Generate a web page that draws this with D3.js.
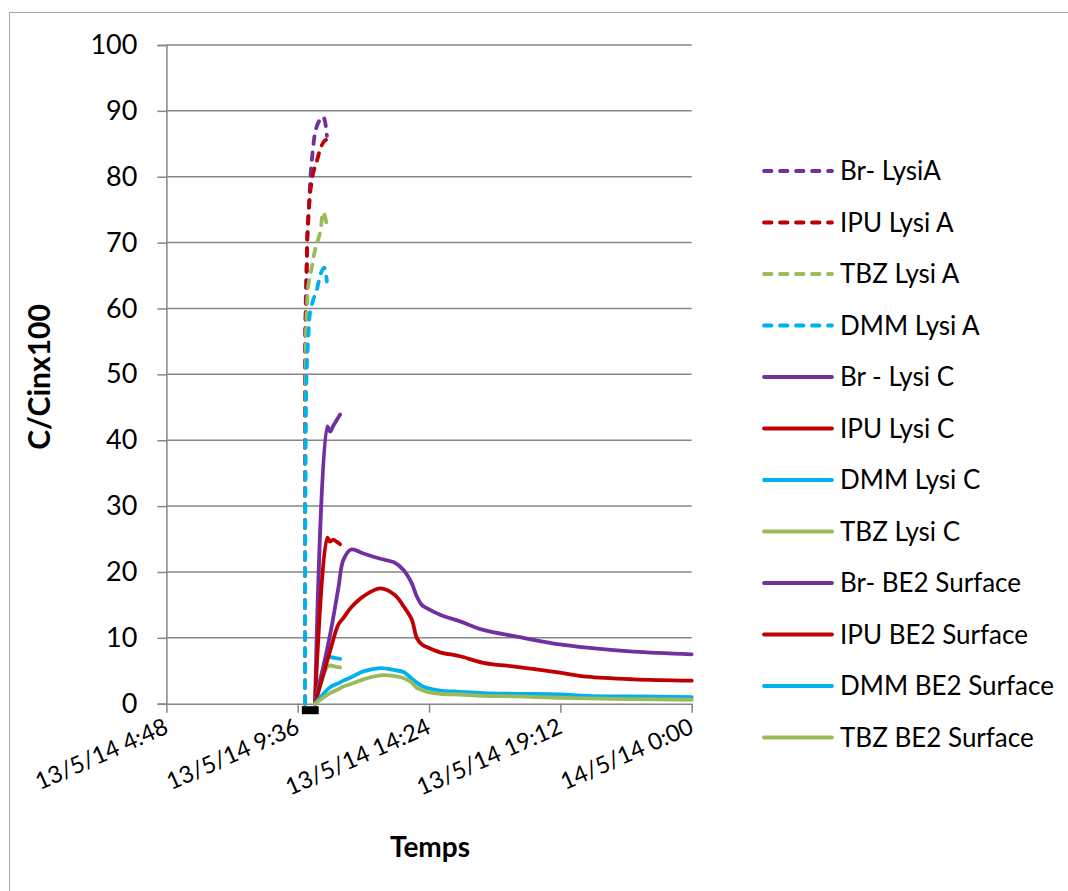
<!DOCTYPE html>
<html>
<head>
<meta charset="utf-8">
<script src="https://cdnjs.cloudflare.com/ajax/libs/d3/7.8.5/d3.min.js"></script>
<style>
  body { margin: 0; background: #fff; }
  svg { font-family: Lato, "Open Sans", sans-serif; }
</style>
</head>
<body>
<svg id="chart" width="1068" height="891"></svg>
<script>
// sample times / values
var brLysiA = [["13/5/14 9:52",0],["13/5/14 9:53",58],["13/5/14 9:56",68],["13/5/14 10:01",76],
  ["13/5/14 10:04",80],["13/5/14 10:07",82.6],["13/5/14 10:10",84.6],["13/5/14 10:14",86.6],
  ["13/5/14 10:21",88.2],["13/5/14 10:32",89.1],["13/5/14 10:40",86.2]];
var ipuLysiA = [["13/5/14 9:52",0],["13/5/14 9:53",57],["13/5/14 9:55",61.3],["13/5/14 9:56",66.3],
  ["13/5/14 9:57",71.5],["13/5/14 10:01",75.5],["13/5/14 10:04",78],["13/5/14 10:10",80.6],
  ["13/5/14 10:18",82.4],["13/5/14 10:25",84.1],["13/5/14 10:32",85.2],["13/5/14 10:38",85.6]];
var tbzLysiA = [["13/5/14 9:52",0],["13/5/14 9:53",49],["13/5/14 9:54",56.3],["13/5/14 9:56",59.8],
  ["13/5/14 9:59",63.3],["13/5/14 10:07",66.3],["13/5/14 10:14",68.9],["13/5/14 10:25",71.5],
  ["13/5/14 10:32",74.6],["13/5/14 10:40",72.7]];
var dmmLysiA = [["13/5/14 9:52",0],["13/5/14 9:55",49.2],["13/5/14 9:59",55.3],["13/5/14 10:03",59.4],
  ["13/5/14 10:10",61.3],["13/5/14 10:18",62.9],["13/5/14 10:27",65.4],["13/5/14 10:34",66.2],
  ["13/5/14 10:40",64.1]];

var timesLysiC = ["13/5/14 10:14","13/5/14 10:41","13/5/14 10:47","13/5/14 10:54","13/5/14 11:01","13/5/14 11:09"];
var brLysiC  = [0, 42.1, 41.3, 42.2, 43.0, 43.9];
var ipuLysiC = [0, 25.2, 24.6, 24.9, 24.6, 24.2];
var dmmLysiC = [0, 7.0, 7.1, 7.0, 6.9, 6.8];
var tbzLysiC = [0, 5.6, 5.8, 5.7, 5.6, 5.5];

var timesBE2 = ["13/5/14 10:14","13/5/14 10:47","13/5/14 11:05","13/5/14 11:16","13/5/14 11:33",
  "13/5/14 12:00","13/5/14 12:37","13/5/14 13:09","13/5/14 13:28","13/5/14 13:46","13/5/14 13:57",
  "13/5/14 14:08","13/5/14 14:19","13/5/14 14:48","13/5/14 15:32","13/5/14 16:23","13/5/14 17:36",
  "13/5/14 19:11","13/5/14 20:10","13/5/14 21:52","14/5/14 0:00"];
var brBE2  = [0, 10.5, 17.5, 21.8, 23.4, 22.8, 22.0, 21.4, 20.3, 18.3, 16.3, 15.0, 14.5, 13.5, 12.5, 11.2, 10.2, 9.0, 8.5, 7.9, 7.5];
var ipuBE2 = [0, 8.0, 12.0, 13.0, 14.6, 16.3, 17.5, 16.5, 14.8, 12.8, 10.0, 9.0, 8.6, 7.8, 7.2, 6.2, 5.6, 4.7, 4.1, 3.7, 3.5];
var dmmBE2 = [0, 2.5, 3.1, 3.5, 4.0, 4.9, 5.4, 5.1, 4.8, 3.8, 3.2, 2.7, 2.4, 2.0, 1.8, 1.6, 1.5, 1.4, 1.2, 1.1, 1.0];
var tbzBE2 = [0, 1.6, 2.2, 2.6, 3.0, 3.7, 4.3, 4.2, 3.9, 3.2, 2.4, 2.1, 1.8, 1.5, 1.4, 1.2, 1.1, 0.9, 0.8, 0.7, 0.6];

// black bar under the axis (application period)
var application = ["13/5/14 9:45", "13/5/14 10:22"];

var xTicks = ["13/5/14 4:48","13/5/14 9:36","13/5/14 14:24","13/5/14 19:12","14/5/14 0:00"];
var yTicks = [0,10,20,30,40,50,60,70,80,90,100];

var purple = "#7030A0", red = "#C00000", green = "#9BBB59", blue = "#00B0F0";

var parse = d3.timeParse("%d/%m/%y %H:%M");
var fmt = d3.timeFormat("%-d/%-m/%y %-H:%M");

function zip(times, vals) {
  return times.map(function(t, i) { return [t, vals[i]]; });
}

var series = [
  {name: "Br- LysiA",       data: brLysiA, color: purple, dash: true},
  {name: "IPU Lysi A",      data: ipuLysiA, color: red, dash: true},
  {name: "TBZ Lysi A",      data: tbzLysiA, color: green, dash: true},
  {name: "DMM Lysi A",      data: dmmLysiA, color: blue, dash: true},
  {name: "Br - Lysi C",     data: zip(timesLysiC, brLysiC), color: purple},
  {name: "IPU Lysi C",      data: zip(timesLysiC, ipuLysiC), color: red},
  {name: "DMM Lysi C",      data: zip(timesLysiC, dmmLysiC), color: blue},
  {name: "TBZ Lysi C",      data: zip(timesLysiC, tbzLysiC), color: green},
  {name: "Br- BE2 Surface", data: zip(timesBE2, brBE2), color: purple},
  {name: "IPU BE2 Surface", data: zip(timesBE2, ipuBE2), color: red},
  {name: "DMM BE2 Surface", data: zip(timesBE2, dmmBE2), color: blue},
  {name: "TBZ BE2 Surface", data: zip(timesBE2, tbzBE2), color: green}
];

var svg = d3.select("#chart");
var plotLeft = 166.4, plotRight = 691.7, plotTop = 45, plotBottom = 703.7;
var lineWidth = 3.8, dashes = "7.5,8.5";

var x = d3.scaleTime()
  .domain([parse(xTicks[0]), parse(xTicks[xTicks.length - 1])])
  .range([plotLeft, plotRight]);
var y = d3.scaleLinear().domain([0, 100]).range([plotBottom, plotTop]);

// chart frame
svg.append("rect")
  .attr("x", 9.5).attr("y", 12.5)
  .attr("width", 1100).attr("height", 1000)
  .attr("fill", "none").attr("stroke", "#a6a6a6").attr("stroke-width", 1);

// gridlines
svg.append("g")
  .selectAll("line").data(yTicks.filter(function(d) { return d > 0; }))
  .enter().append("line")
  .attr("x1", plotLeft).attr("x2", plotRight)
  .attr("y1", function(d) { return y(d); }).attr("y2", function(d) { return y(d); })
  .attr("stroke", "#868686").attr("stroke-width", 1.5);

// y axis
var yAxis = svg.append("g")
  .attr("transform", "translate(" + plotLeft + ",0)")
  .call(d3.axisLeft(y).tickValues(yTicks).tickSize(9).tickPadding(20));
yAxis.select(".domain").attr("stroke", "#868686").attr("stroke-width", 1.5);
yAxis.selectAll(".tick line").attr("stroke", "#868686").attr("stroke-width", 1.5);
yAxis.selectAll("text").attr("font-size", 27).attr("fill", "#000")
  .attr("font-family", "Lato");

// x axis
var xAxis = svg.append("g")
  .attr("transform", "translate(0," + plotBottom + ")")
  .call(d3.axisBottom(x).tickValues(xTicks.map(parse)).tickFormat(fmt).tickSize(9).tickSizeOuter(0));
xAxis.select(".domain").attr("stroke", "#868686").attr("stroke-width", 1.5);
xAxis.selectAll(".tick line").attr("stroke", "#868686").attr("stroke-width", 1.5);
xAxis.selectAll("text")
  .attr("font-size", 23.5).attr("fill", "#000").attr("font-family", "Lato")
  .attr("text-anchor", "end")
  .attr("x", 3).attr("y", 0).attr("dy", 0)
  .attr("transform", "translate(0,30) rotate(-24)");

// application bar
svg.append("rect")
  .attr("x", x(parse(application[0])))
  .attr("width", x(parse(application[1])) - x(parse(application[0])))
  .attr("y", plotBottom + 2.5).attr("height", 8)
  .attr("fill", "#000");

// lines
var line = d3.line()
  .x(function(d) { return x(parse(d[0])); })
  .y(function(d) { return y(d[1]); })
  .curve(d3.curveCatmullRom.alpha(0.5));

svg.append("g").selectAll("path").data(series)
  .enter().append("path")
  .attr("d", function(d) { return line(d.data); })
  .attr("fill", "none")
  .attr("stroke", function(d) { return d.color; })
  .attr("stroke-width", lineWidth)
  .attr("stroke-linecap", "round")
  .attr("stroke-linejoin", "round")
  .attr("stroke-dasharray", function(d) { return d.dash ? dashes : null; });

// legend
var legend = svg.append("g").selectAll("g").data(series)
  .enter().append("g")
  .attr("transform", function(d, i) { return "translate(762," + (171 + i * 51.5) + ")"; });
legend.append("line")
  .attr("x1", 2).attr("x2", 70)
  .attr("stroke", function(d) { return d.color; })
  .attr("stroke-width", lineWidth)
  .attr("stroke-linecap", "round")
  .attr("stroke-dasharray", function(d) { return d.dash ? dashes : null; });
legend.append("text")
  .attr("x", 78).attr("dy", "0.36em")
  .attr("font-size", 26)
  .text(function(d) { return d.name; });

// axis titles
svg.append("text")
  .attr("transform", "translate(50,377) rotate(-90)")
  .attr("text-anchor", "middle")
  .attr("font-size", 30).attr("font-weight", "bold")
  .text("C/Cinx100");
svg.append("text")
  .attr("x", 430).attr("y", 857)
  .attr("text-anchor", "middle")
  .attr("font-size", 28).attr("font-weight", "bold")
  .text("Temps");
</script>
</body>
</html>
